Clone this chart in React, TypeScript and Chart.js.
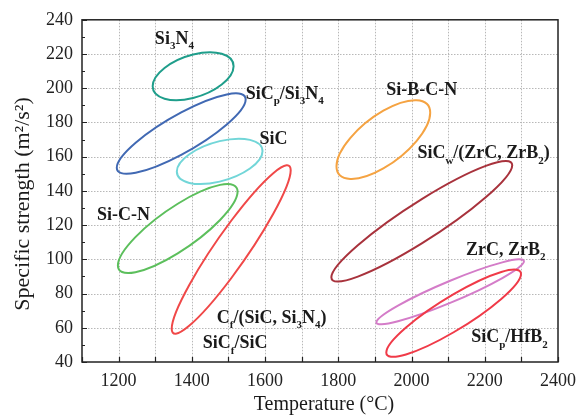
import React, { useEffect, useRef } from 'react';
import { Chart, registerables } from 'chart.js';

Chart.register(...registerables);

// Each material region: temperature range, specific-strength range and the tilt (correlation) of its ellipse
const materials = ['Si3N4', 'SiCp/Si3N4', 'SiC', 'Si-C-N', 'Cf/(SiC, Si3N4) & SiCf/SiC', 'Si-B-C-N', 'SiCw/(ZrC, ZrB2)', 'ZrC, ZrB2', 'SiCp/HfB2'];
const tempMin = [1293, 1195, 1359, 1198, 1345, 1795, 1781, 1904, 1931];
const tempMax = [1514, 1547, 1593, 1525, 1670, 2051, 2275, 2307, 2299];
const strengthMin = [193, 150, 144, 92, 56.5, 147, 87, 62, 43];
const strengthMax = [221, 197, 170.5, 144, 155, 193, 157.5, 100, 94];
const tilt = [0.42, 0.85, 0.45, 0.83, 0.94, 0.68, 0.93, 0.94, 0.9];
const colors = ['#1f9e8b', '#4169b3', '#72d6d8', '#5cbf5c', '#f04848', '#f5a342', '#a8323c', '#d47cc8', '#f03a48'];

// Annotation texts ("_x" = subscript) and their anchor (left, baseline) in data units
const labelTexts = ['Si_3N_4', 'SiC_p/Si_3N_4', 'SiC', 'Si-C-N', 'C_f/(SiC, Si_3N_4)', 'SiC_f/SiC', 'Si-B-C-N', 'SiC_w/(ZrC, ZrB_2)', 'ZrC, ZrB_2', 'SiC_p/HfB_2'];
const labelTemp = [1299, 1547, 1585, 1141, 1468, 1430, 1931, 2016, 2149, 2163];
const labelStrength = [225.8, 193.8, 167.6, 123.2, 62.8, 48, 196.1, 159.1, 102.7, 51.4];

const xTitle = 'Temperature (°C)';
const yTitle = 'Specific strength (m²/s²)';
const xMin = 1100, xMax = 2400, xStep = 100, xLabelEvery = 200;
const yMin = 40, yMax = 240, yStep = 10, yLabelEvery = 20;

const SERIF = '"Liberation Serif", "Times New Roman", serif';

function drawRich(ctx: CanvasRenderingContext2D, text: string, x: number, y: number, size: number) {
  const runs: { t: string; sub: boolean }[] = [];
  for (let i = 0; i < text.length; i++) {
    if (text[i] === '_' && i + 1 < text.length) {
      runs.push({ t: text[i + 1], sub: true });
      i++;
    } else {
      const last = runs[runs.length - 1];
      if (last && !last.sub) last.t += text[i];
      else runs.push({ t: text[i], sub: false });
    }
  }
  let cx = x;
  ctx.textAlign = 'left';
  ctx.textBaseline = 'alphabetic';
  for (const r of runs) {
    const fs = r.sub ? Math.round(size * 0.62) : size;
    ctx.font = `bold ${fs}px ${SERIF}`;
    ctx.fillText(r.t, cx, r.sub ? y + size * 0.3 : y);
    cx += ctx.measureText(r.t).width;
  }
}

const ellipsePlugin = {
  id: 'ellipses',
  beforeDatasetsDraw(chart: any) {
    const ctx: CanvasRenderingContext2D = chart.ctx;
    const { left, right, top, bottom } = chart.chartArea;
    const xs = chart.scales.x;
    const ys = chart.scales.y;
    ctx.save();
    ctx.strokeStyle = '#b8b8b8';
    ctx.lineWidth = 1;
    ctx.setLineDash([1.5, 1.5]);
    ctx.beginPath();
    for (const t of xs.ticks) {
      if (t.value === xMin || t.value === xMax) continue;
      const p = Math.round(xs.getPixelForValue(t.value)) + 0.5;
      ctx.moveTo(p, top);
      ctx.lineTo(p, bottom);
    }
    for (const t of ys.ticks) {
      if (t.value % yLabelEvery !== 0 || t.value === yMin || t.value === yMax) continue;
      const p = Math.round(ys.getPixelForValue(t.value)) + 0.5;
      ctx.moveTo(left, p);
      ctx.lineTo(right, p);
    }
    ctx.stroke();
    ctx.restore();
  },
  afterDatasetsDraw(chart: any) {
    const ctx: CanvasRenderingContext2D = chart.ctx;
    const xs = chart.scales.x;
    const ys = chart.scales.y;
    for (let i = 0; i < materials.length; i++) {
      const cT = (tempMin[i] + tempMax[i]) / 2;
      const cS = (strengthMin[i] + strengthMax[i]) / 2;
      const px = xs.getPixelForValue(cT);
      const py = ys.getPixelForValue(cS);
      const ax = xs.getPixelForValue(tempMax[i]) - px;
      const by = ys.getPixelForValue(strengthMax[i]) - py;
      const r = tilt[i];
      const s = Math.sqrt(1 - r * r);
      ctx.save();
      ctx.beginPath();
      ctx.transform(ax, by * r, 0, by * s, px, py);
      ctx.arc(0, 0, 1, 0, Math.PI * 2);
      ctx.closePath();
      ctx.restore();
      ctx.save();
      ctx.lineWidth = 2;
      ctx.strokeStyle = colors[i];
      ctx.stroke();
      ctx.restore();
    }
    ctx.save();
    ctx.fillStyle = '#1a1a1a';
    for (let i = 0; i < labelTexts.length; i++) {
      drawRich(ctx, labelTexts[i], xs.getPixelForValue(labelTemp[i]), ys.getPixelForValue(labelStrength[i]), 18);
    }
    ctx.restore();
  },
  afterDraw(chart: any) {
    const ctx: CanvasRenderingContext2D = chart.ctx;
    const { left, right, top, bottom } = chart.chartArea;
    const xs = chart.scales.x;
    const ys = chart.scales.y;
    ctx.save();
    ctx.strokeStyle = '#222';
    ctx.lineWidth = 1.5;
    ctx.strokeRect(left, top, right - left, bottom - top);
    ctx.lineWidth = 1.2;
    ctx.beginPath();
    for (const t of xs.ticks) {
      const p = Math.round(xs.getPixelForValue(t.value)) + 0.5;
      ctx.moveTo(p, bottom);
      ctx.lineTo(p, bottom - 5);
    }
    for (const t of ys.ticks) {
      const p = Math.round(ys.getPixelForValue(t.value)) + 0.5;
      const len = t.value % yLabelEvery === 0 ? 5 : 3;
      ctx.moveTo(left, p);
      ctx.lineTo(left + len, p);
    }
    ctx.stroke();
    // axis titles
    ctx.fillStyle = '#1a1a1a';
    ctx.font = `20px ${SERIF}`;
    ctx.textAlign = 'center';
    ctx.textBaseline = 'middle';
    ctx.fillText(xTitle, (left + right) / 2 + 4, 405);
    ctx.font = `22px ${SERIF}`;
    ctx.translate(23, 204);
    ctx.rotate(-Math.PI / 2);
    ctx.fillText(yTitle, 0, 0);
    ctx.restore();
  },
};

export default function App() {
  const ref = useRef<HTMLCanvasElement | null>(null);
  useEffect(() => {
    if (!ref.current) return;
    const chart = new Chart(ref.current, {
      type: 'scatter',
      data: { datasets: [] },
      options: {
        animation: false,
        responsive: false,
        maintainAspectRatio: false,
        layout: { padding: { top: 11, right: 25, left: 0, bottom: 0 } },
        plugins: { legend: { display: false }, tooltip: { enabled: false } },
        scales: {
          x: {
            type: 'linear',
            min: xMin,
            max: xMax,
            afterFit: (s: any) => { s.height = 58; },
            ticks: {
              stepSize: xStep,
              autoSkip: false,
              maxRotation: 0,
              padding: 8,
              color: '#222',
              font: { family: SERIF, size: 18 },
              callback: (v: any) => (Number(v) % xLabelEvery === 0 ? String(v) : ''),
            },
            grid: { display: false, drawTicks: false },
            border: { display: false },
          },
          y: {
            type: 'linear',
            min: yMin,
            max: yMax,
            afterFit: (s: any) => { s.width = 82; },
            ticks: {
              stepSize: yStep,
              autoSkip: false,
              padding: 9,
              color: '#222',
              font: { family: SERIF, size: 18 },
              callback: (v: any) => (Number(v) % yLabelEvery === 0 ? String(v) : ''),
            },
            grid: { display: false, drawTicks: false },
            border: { display: false },
          },
        },
      },
      plugins: [ellipsePlugin],
    } as any);
    return () => chart.destroy();
  }, []);
  return (
    <div style={{ position: 'fixed', left: 0, top: 0, width: 584, height: 420, background: '#fff' }}>
      <canvas ref={ref} width={584} height={420} style={{ display: 'block' }} />
    </div>
  );
}
